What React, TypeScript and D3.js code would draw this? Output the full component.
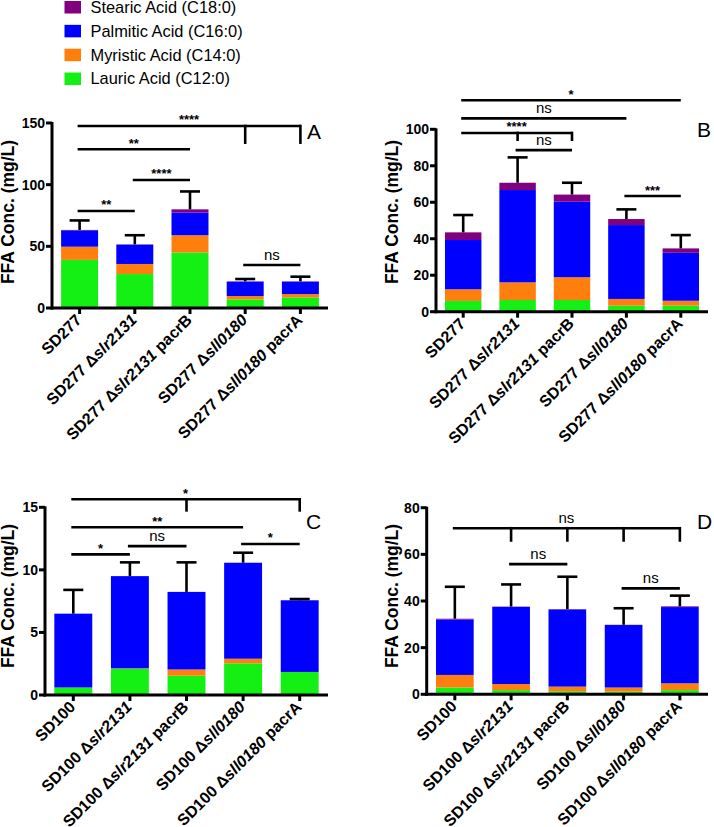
import React from "react";
import * as d3 from "d3";

// ---------- data ----------
const seriesNames = ["Lauric Acid (C12:0)", "Myristic Acid (C14:0)", "Palmitic Acid (C16:0)", "Stearic Acid (C18:0)"];
const seriesColors = ["#14ef14", "#ff7f0e", "#0000ff", "#800080"];

const categoriesSD277 = ["SD277", "SD277 Δslr2131", "SD277 Δslr2131 pacrB", "SD277 Δsll0180", "SD277 Δsll0180 pacrA"];
const categoriesSD100 = ["SD100", "SD100 Δslr2131", "SD100 Δslr2131 pacrB", "SD100 Δsll0180", "SD100 Δsll0180 pacrA"];

// Panel A
const lauricA = [39, 27.5, 45, 7, 8.6];
const myristicA = [10.7, 8.2, 14, 2.7, 2.7];
const palmiticA = [13.3, 15.7, 18.3, 11.7, 10.1];
const stearicA = [0.3, 0.2, 2.7, 0.2, 0.2];
const sdA = [7.7, 7.4, 14.5, 1.9, 3.8];
const ticksA = [0, 50, 100, 150];

// Panel B
const lauricB = [5.9, 6.4, 6.4, 3.3, 3.3];
const myristicB = [6.4, 9.7, 12.5, 3.7, 2.7];
const palmiticB = [27, 50.6, 41.4, 40.5, 26.3];
const stearicB = [4.2, 4, 3.9, 3.3, 2.4];
const sdB = [9.5, 13.9, 6.5, 5.3, 7.3];
const ticksB = [0, 20, 40, 60, 80, 100];

// Panel C
const lauricC = [0.6, 2.1, 1.54, 2.53, 1.84];
const myristicC = [0, 0.03, 0.5, 0.37, 0];
const palmiticC = [5.9, 7.37, 6.2, 7.67, 5.73];
const stearicC = [0, 0, 0, 0, 0];
const sdC = [1.9, 1.1, 2.36, 0.8, 0.1];
const ticksC = [0, 5, 10, 15];

// Panel D
const lauricD = [2.9, 1.8, 1.3, 1.2, 1.8];
const myristicD = [5.4, 2.6, 2.0, 1.7, 2.9];
const palmiticD = [23.8, 33.1, 33.1, 26.8, 32.7];
const stearicD = [0.3, 0.1, 0.1, 0.1, 0.3];
const sdD = [13.7, 9.5, 13.9, 7.1, 4.6];
const ticksD = [0, 20, 40, 60, 80];

// significance brackets: from/to bar index, y value, label, drop ticks
const bracketsA = [
  { from: 0, to: 4, y: 147.6, label: "****", drops: [3, 4], dropY: 133 },
  { from: 0, to: 2, y: 128.7, label: "**", drops: [], dropY: 0 },
  { from: 1, to: 2, y: 103.8, label: "****", drops: [], dropY: 0 },
  { from: 0, to: 1, y: 78.7, label: "**", drops: [], dropY: 0 },
  { from: 3, to: 4, y: 34.9, label: "ns", drops: [], dropY: 0 },
];
const bracketsB = [
  { from: 0, to: 4, y: 115.9, label: "*", drops: [], dropY: 0 },
  { from: 0, to: 3, y: 106, label: "ns", drops: [], dropY: 0 },
  { from: 0, to: 2, y: 98, label: "****", drops: [1, 2], dropY: 93.6 },
  { from: 1, to: 2, y: 88.6, label: "ns", drops: [], dropY: 0 },
  { from: 3, to: 4, y: 63.4, label: "***", drops: [], dropY: 0 },
];
const bracketsC = [
  { from: 0, to: 4, y: 15.64, label: "*", drops: [2, 4], dropY: 14.65 },
  { from: 0, to: 3, y: 13.4, label: "**", drops: [], dropY: 0 },
  { from: 0, to: 1, y: 11.24, label: "*", drops: [], dropY: 0 },
  { from: 1, to: 2, y: 11.9, label: "ns", drops: [], dropY: 0 },
  { from: 3, to: 4, y: 12.07, label: "*", drops: [], dropY: 0 },
];
const bracketsD = [
  { from: 0, to: 4, y: 71.2, label: "ns", drops: [1, 2, 3, 4], dropY: 65.4 },
  { from: 1, to: 2, y: 55.8, label: "ns", drops: [], dropY: 0 },
  { from: 3, to: 4, y: 45.4, label: "ns", drops: [], dropY: 0 },
];

// ---------- components ----------
const FONT = "'Liberation Sans', Arial, Helvetica, sans-serif";

function CatLabel({ text }: { text: string }) {
  const parts = text.split(/(slr2131|sll0180)/);
  return (
    <>
      {parts.filter((p) => p.length > 0).map((p, i) => (
        <tspan key={i} fontStyle={/^(slr2131|sll0180)$/.test(p) ? "italic" : "normal"}>{p}</tspan>
      ))}
    </>
  );
}

type Bracket = { from: number; to: number; y: number; label: string; drops: number[]; dropY: number };

function Panel(props: {
  cats: string[];
  layers: number[][];
  sd: number[];
  ticks: number[];
  brackets: Bracket[];
  letter: string;
  left: number;
  right: number;
  top: number;
  bottom: number;
  letterX: number;
  letterY: number;
  yLabelX: number;
  yLabelY: number;
}) {
  const { cats, layers, sd, ticks, brackets, letter, left, right, top, bottom } = props;
  const x = d3.scaleBand<string>().domain(cats).range([left, right]).paddingInner(0.33).paddingOuter(0.165);
  const y = d3.scaleLinear().domain([0, ticks[ticks.length - 1]]).range([bottom, top]);
  const keys = ["k0", "k1", "k2", "k3"];
  const rows = cats.map((c, i) => ({ cat: c, k0: layers[0][i], k1: layers[1][i], k2: layers[2][i], k3: layers[3][i] }));
  const stacked = d3.stack<any>().keys(keys)(rows);
  const bw = x.bandwidth();
  const cx = (i: number) => (x(cats[i]) as number) + bw / 2;
  const totals = rows.map((r) => r.k0 + r.k1 + r.k2 + r.k3);

  return (
    <g>
      {stacked.map((s, si) => (
        <g key={si} fill={seriesColors[si]}>
          {s.map((d, i) => {
            const h = y(d[0]) - y(d[1]);
            if (h <= 0) return null;
            return <rect key={i} x={x(cats[i])} y={y(d[1])} width={bw} height={h} />;
          })}
        </g>
      ))}
      {/* error bars */}
      <g stroke="#000" strokeWidth={2.6} fill="none">
        {totals.map((t, i) => (
          <g key={i}>
            <line x1={cx(i)} x2={cx(i)} y1={y(t)} y2={y(t + sd[i])} />
            <line x1={cx(i) - 10} x2={cx(i) + 10} y1={y(t + sd[i])} y2={y(t + sd[i])} />
          </g>
        ))}
      </g>
      {/* axes */}
      <g stroke="#000" strokeWidth={3}>
        <line x1={left} x2={left} y1={top - 1} y2={bottom + 1.5} />
        <line x1={left - 1.5} x2={right} y1={bottom} y2={bottom} />
        {ticks.map((t) => (
          <line key={t} x1={left - 6} x2={left} y1={y(t)} y2={y(t)} />
        ))}
        {cats.map((c, i) => (
          <line key={c} x1={cx(i)} x2={cx(i)} y1={bottom} y2={bottom + 6} />
        ))}
      </g>
      <g fontFamily={FONT} fontWeight="bold" fontSize={14} textAnchor="end">
        {ticks.map((t) => (
          <text key={t} x={left - 7} y={y(t)} dy="0.36em">{t}</text>
        ))}
      </g>
      <g fontFamily={FONT} fontWeight="bold" fontSize={16} textAnchor="end">
        {cats.map((c, i) => {
          const px = cx(i) + 3;
          const py = bottom + 13;
          return (
            <text key={c} x={px} y={py} transform={`rotate(-45 ${px} ${py})`}>
              <CatLabel text={c} />
            </text>
          );
        })}
      </g>
      <text
        fontFamily={FONT}
        fontWeight="bold"
        fontSize={17.5}
        textAnchor="middle"
        x={props.yLabelX}
        y={props.yLabelY}
        transform={`rotate(-90 ${props.yLabelX} ${props.yLabelY})`}
      >
        FFA Conc. (mg/L)
      </text>
      {/* brackets */}
      <g>
        {brackets.map((b, bi) => {
          const x1 = cx(b.from) - 2;
          const x2 = cx(b.to);
          const yy = y(b.y);
          const isNs = b.label === "ns";
          return (
            <g key={bi}>
              <line x1={x1} x2={x2} y1={yy} y2={yy} stroke="#000" strokeWidth={2.6} />
              {b.drops.map((di) => (
                <line key={di} x1={cx(di)} x2={cx(di)} y1={yy - 1.3} y2={y(b.dropY)} stroke="#000" strokeWidth={2.6} />
              ))}
              <text
                x={(x1 + x2) / 2}
                y={isNs ? yy - 5 : yy - 1.5}
                textAnchor="middle"
                fontFamily={FONT}
                fontWeight={isNs ? "normal" : "bold"}
                fontSize={isNs ? 15 : 13}
              >
                {b.label}
              </text>
            </g>
          );
        })}
      </g>
      <text x={props.letterX} y={props.letterY} fontFamily={FONT} fontSize={21}>{letter}</text>
    </g>
  );
}

function Legend() {
  const order = [3, 2, 1, 0];
  const rowY = d3.scaleLinear().domain([0, 3]).range([7, 78.5]);
  return (
    <g fontFamily={FONT} fontSize={16.4}>
      {order.map((si, r) => (
        <g key={si}>
          <rect x={64.5} y={rowY(r) - 6} width={16.5} height={12.5} fill={seriesColors[si]} />
          <text x={90.5} y={rowY(r)} dy="0.36em">{seriesNames[si]}</text>
        </g>
      ))}
    </g>
  );
}

export default function App() {
  return (
    <svg width={714} height={827} style={{ position: "absolute", left: 0, top: 0, background: "#fff" }}>
      <rect width={714} height={827} fill="#fff" />
      <Legend />
      <Panel
        cats={categoriesSD277}
        layers={[lauricA, myristicA, palmiticA, stearicA]}
        sd={sdA}
        ticks={ticksA}
        brackets={bracketsA}
        letter="A"
        left={52}
        right={328}
        top={123}
        bottom={308}
        letterX={307}
        letterY={138.5}
        yLabelX={14}
        yLabelY={212}
      />
      <Panel
        cats={categoriesSD277}
        layers={[lauricB, myristicB, palmiticB, stearicB]}
        sd={sdB}
        ticks={ticksB}
        brackets={bracketsB}
        letter="B"
        left={436}
        right={708}
        top={129.3}
        bottom={311.7}
        letterX={697}
        letterY={136.7}
        yLabelX={398}
        yLabelY={212}
      />
      <Panel
        cats={categoriesSD100}
        layers={[lauricC, myristicC, palmiticC, stearicC]}
        sd={sdC}
        ticks={ticksC}
        brackets={bracketsC}
        letter="C"
        left={45}
        right={328}
        top={507.3}
        bottom={695}
        letterX={306}
        letterY={529.3}
        yLabelX={14}
        yLabelY={596}
      />
      <Panel
        cats={categoriesSD100}
        layers={[lauricD, myristicD, palmiticD, stearicD]}
        sd={sdD}
        ticks={ticksD}
        brackets={bracketsD}
        letter="D"
        left={426.7}
        right={708}
        top={507.7}
        bottom={694.3}
        letterX={697}
        letterY={529.3}
        yLabelX={398}
        yLabelY={596}
      />
    </svg>
  );
}
